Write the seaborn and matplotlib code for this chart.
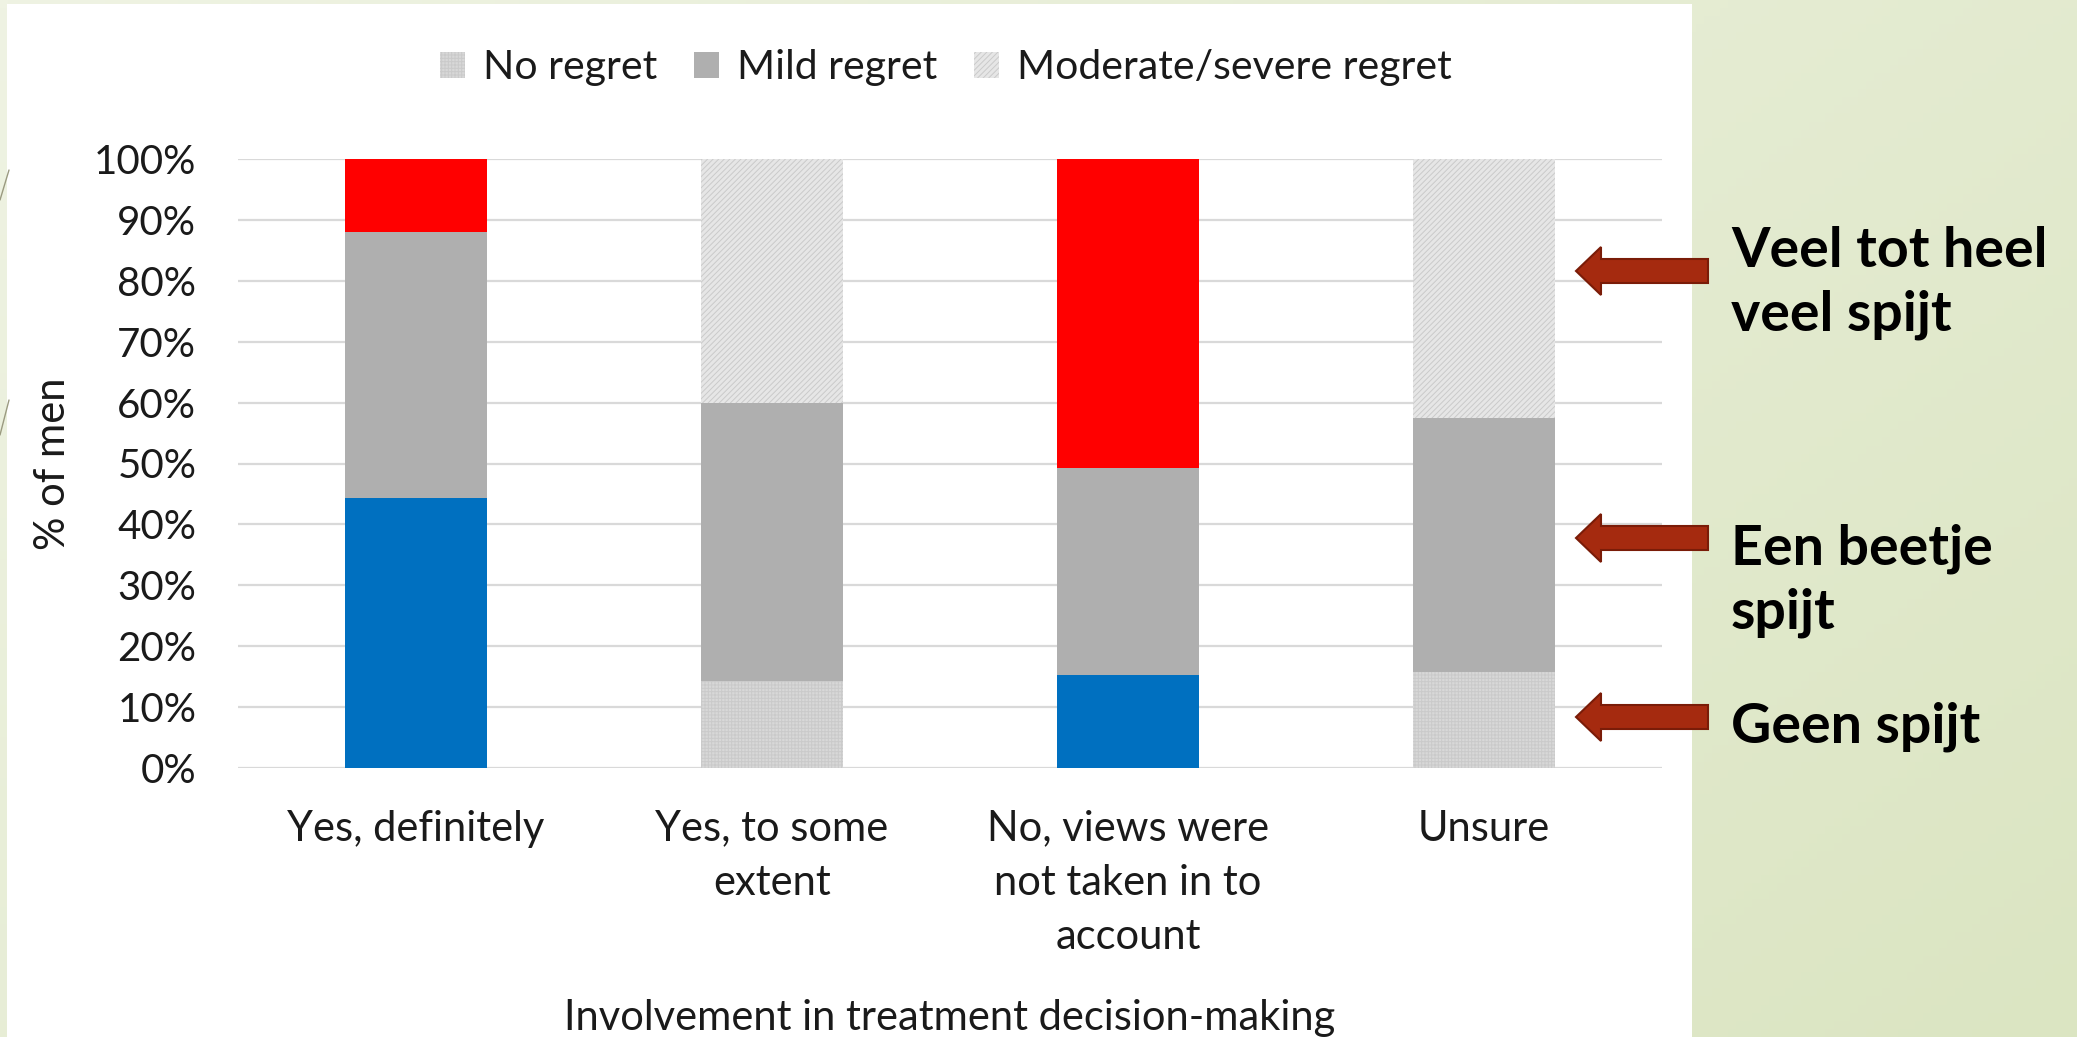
import numpy as np
import pandas as pd
import matplotlib
matplotlib.use("Agg")
import matplotlib.pyplot as plt
from matplotlib.patches import Polygon, Rectangle, Patch
import seaborn as sns

# ---------------- data ----------------
categories = ["Yes, definitely", "Yes, to some\nextent",
              "No, views were\nnot taken in to\naccount", "Unsure"]
no_regret = [44.3, 14.3, 15.2, 15.7]
mild_regret = [43.7, 45.7, 34.1, 41.7]
moderate_regret = [12.0, 40.0, 50.7, 42.6]
series_names = ["No regret", "Mild regret", "Moderate/severe regret"]
highlighted = [True, False, True, False]
y_ticks = [0, 10, 20, 30, 40, 50, 60, 70, 80, 90, 100]
y_tick_labels = [f"{t}%" for t in y_ticks]
annotations = [("Veel tot heel", "veel spijt"), ("Een beetje", "spijt"), ("Geen spijt",)]

W, H = 2077, 1037
sns.set_theme(style="white")
plt.rcParams['font.family'] = ['Lato', 'DejaVu Sans']
plt.rcParams['hatch.linewidth'] = 0.7

fig = plt.figure(figsize=(W / 100, H / 100), dpi=100)

# ---------------- background (slide) ----------------
bg = fig.add_axes([0, 0, 1, 1], zorder=-10)
gx = np.linspace(0, 1, 256)
gy = np.linspace(0, 1, 128)
GX, GY = np.meshgrid(gx, gy)
t = np.clip(0.6 * GX + 0.4 * GY, 0, 1)[..., None]
c0 = np.array([0xef, 0xf3, 0xe3]) / 255
c1 = np.array([0xdb, 0xe5, 0xc2]) / 255
img = c0 * (1 - t) + c1 * t
bg.imshow(img, extent=(0, W, H, 0), aspect='auto')
bg.add_patch(Rectangle((7, 4), 1685, H, facecolor='white', edgecolor='none'))
bg.plot([9, 0], [170, 200], color='#9a9a80', lw=1)
bg.plot([9, 0], [400, 435], color='#9a9a80', lw=1)
bg.set_xlim(0, W)
bg.set_ylim(H, 0)
bg.axis('off')

# ---------------- chart ----------------
left, right, top, bottom = 238, 1662, 159, 768
ax = fig.add_axes([left / W, 1 - bottom / H, (right - left) / W, (bottom - top) / H])
ax.set_facecolor('none')

df = pd.DataFrame({
    "category": categories,
    "no": no_regret,
    "mild": mild_regret,
    "moderate": moderate_regret,
})
df["top_mild"] = df["no"] + df["mild"]
df["top_all"] = df["top_mild"] + df["moderate"]

styles = {
    "moderate": dict(face='#e6e6e6', hatch='//////', hcol='#cacaca', hi='#ff0000'),
    "mild": dict(face='#afafaf', hatch=None, hcol='#afafaf', hi=None),
    "no": dict(face='#d8d8d8', hatch='+++++', hcol='#cacaca', hi='#0070c0'),
}

for col, key in [("top_all", "moderate"), ("top_mild", "mild"), ("no", "no")]:
    n_before = len(ax.patches)
    sns.barplot(data=df, x="category", y=col, ax=ax, width=0.4,
                color=styles[key]['face'], errorbar=None, saturation=1)
    new = ax.patches[n_before:]
    for i, p in enumerate(new):
        st = styles[key]
        if highlighted[i] and st['hi'] is not None:
            p.set_facecolor(st['hi'])
            p.set_hatch(None)
            p.set_edgecolor('none')
            p.set_linewidth(0)
        else:
            p.set_facecolor(st['face'])
            if st['hatch']:
                p.set_hatch(st['hatch'])
                p.set_edgecolor(st['hcol'])
            else:
                p.set_edgecolor('none')
            p.set_linewidth(0)

ax.set_ylim(0, 100)
ax.set_xlim(-0.5, 3.5)
ax.set_yticks(y_ticks)
ax.set_yticklabels(y_tick_labels)
ax.yaxis.grid(True, color='#d9d9d9', linewidth=1.6)
ax.xaxis.grid(False)
ax.set_axisbelow(True)
for s in ax.spines.values():
    s.set_visible(False)
ax.tick_params(axis='y', length=0, pad=30, labelsize=29, labelcolor='#1a1a1a')
ax.tick_params(axis='x', length=0, pad=30, labelsize=30, labelcolor='#1a1a1a')
for lab in ax.get_xticklabels():
    lab.set_linespacing(1.52)
ax.set_xlabel("Involvement in treatment decision-making", fontsize=30,
              color='#1a1a1a', labelpad=31)
ax.set_ylabel("% of men", fontsize=30, color='#1a1a1a', labelpad=16)

handles = [
    Patch(facecolor=styles['no']['face'], edgecolor=styles['no']['hcol'],
          hatch=styles['no']['hatch'], linewidth=0),
    Patch(facecolor=styles['mild']['face'], edgecolor='none', linewidth=0),
    Patch(facecolor=styles['moderate']['face'], edgecolor=styles['moderate']['hcol'],
          hatch=styles['moderate']['hatch'], linewidth=0),
]
fig.legend(handles, series_names, loc='center', bbox_to_anchor=(946 / W, 1 - 68 / H),
           ncol=3, frameon=False, fontsize=29.5, handlelength=0.6, handleheight=0.6,
           handletextpad=0.45, columnspacing=0.9, labelcolor='#1a1a1a')

# ---------------- annotations ----------------
fg = fig.add_axes([0, 0, 1, 1], zorder=10)
fg.set_xlim(0, W)
fg.set_ylim(H, 0)
fg.axis('off')
fg.patch.set_alpha(0)

arrow_y = [271, 538, 717]
tip, base, tail = 1576, 1601, 1708
sh, hh = 12, 24
for yc in arrow_y:
    verts = [(tip, yc), (base, yc - hh), (base, yc - sh), (tail, yc - sh),
             (tail, yc + sh), (base, yc + sh), (base, yc + hh)]
    fg.add_patch(Polygon(verts, closed=True, facecolor='#a52a0f',
                         edgecolor='#7a1c08', linewidth=1.5))

baselines = [[267, 330], [565, 628], [742]]
for lines, bls in zip(annotations, baselines):
    for line, b in zip(lines, bls):
        fg.text(1731, b, line, fontsize=40, fontweight='bold', color='black',
                ha='left', va='baseline')

fig.savefig("out.png", dpi=100)
